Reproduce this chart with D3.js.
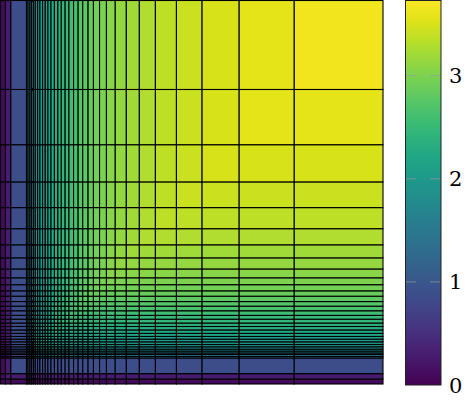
<!DOCTYPE html>
<html>
	<head>
		<meta charset="utf-8">
		<style>
			body {
			  margin: 0;
			  background: #fff;
			}
			text.lbl {
			  font-family: "DejaVu Serif", serif;
			  font-size: 21px;
			}
		</style>
		<script src="https://d3js.org/d3.v7.min.js"></script>
	</head>
	<body>
		<div id="chart"><svg width="470" height="401"></svg></div>
		<script type="text/javascript">
			// cell edges (same for x and y), data units 0..1
			var edges = [0, 0.013, 0.027, 0.068, 0.072, 0.077, 0.081, 0.086, 0.091, 0.097,
				0.103, 0.110, 0.117, 0.124, 0.132, 0.141, 0.150, 0.159, 0.169, 0.179,
				0.191, 0.203, 0.215, 0.229, 0.243, 0.259, 0.277, 0.300, 0.329, 0.363,
				0.405, 0.460, 0.527, 0.624, 0.768, 1];

			// level of each column / row (read from the top row and right column)
			var levels = [0.10, 0.28, 0.86, 1.50, 1.57, 1.64, 1.70, 1.77, 1.84, 1.91,
				1.98, 2.05, 2.11, 2.18, 2.25, 2.32, 2.39, 2.46, 2.52, 2.59,
				2.66, 2.73, 2.80, 2.87, 2.93, 3.00, 3.06, 3.13, 3.20, 3.28,
				3.36, 3.43, 3.51, 3.58, 3.65];

			var colorMax = 3.73;
			var cbarTicks = [0, 1, 2, 3];

			var svg = d3.select("#chart svg");

			var x = d3.scaleLinear().domain([0, 1]).range([0.5, 383]);
			var y = d3.scaleLinear().domain([0, 1]).range([384, 0.5]);
			var color = d3.scaleSequential(d3.interpolateViridis).domain([0, colorMax]);

			var cells = [];
			for (var i = 0; i < levels.length; i++) {
				for (var j = 0; j < levels.length; j++) {
					cells.push({i: i, j: j, v: Math.min(levels[i], levels[j])});
				}
			}

			svg.append("g").selectAll("rect")
				.data(cells)
				.enter().append("rect")
				.attr("x", function(d) { return x(edges[d.i]); })
				.attr("y", function(d) { return y(edges[d.j + 1]); })
				.attr("width", function(d) { return x(edges[d.i + 1]) - x(edges[d.i]); })
				.attr("height", function(d) { return y(edges[d.j]) - y(edges[d.j + 1]); })
				.attr("fill", function(d) { return color(d.v); })
				.attr("stroke", "#000")
				.attr("stroke-width", 1.1);

			// colorbar
			var cb = svg.append("g").attr("class", "cbar");
			var cy = d3.scaleLinear().domain([0, colorMax]).range([385, 0.5]);

			var grad = svg.append("defs").append("linearGradient")
				.attr("id", "vir")
				.attr("x1", 0).attr("x2", 0).attr("y1", 1).attr("y2", 0);
			d3.range(0, 1.0001, 0.05).forEach(function(t) {
				grad.append("stop")
					.attr("offset", t)
					.attr("stop-color", d3.interpolateViridis(t));
			});

			cb.append("rect")
				.attr("x", 405.5).attr("y", cy(colorMax))
				.attr("width", 35.5).attr("height", cy(0) - cy(colorMax))
				.attr("fill", "url(#vir)")
				.attr("stroke", "#222")
				.attr("stroke-width", 1);

			var tk = cb.selectAll(".tick")
				.data(cbarTicks)
				.enter().append("g")
				.attr("class", "tick")
				.attr("transform", function(d) { return "translate(0," + cy(d) + ")"; });

			tk.filter(function(d) { return d > 0; }).append("line")
				.attr("x1", 406).attr("x2", 416)
				.attr("stroke", "#999").attr("stroke-width", 0.7);
			tk.filter(function(d) { return d > 0; }).append("line")
				.attr("x1", 430).attr("x2", 440)
				.attr("stroke", "#999").attr("stroke-width", 0.7);

			tk.append("text")
				.attr("class", "lbl")
				.attr("x", 449)
				.attr("dy", "0.36em")
				.attr("fill", "#000")
				.text(function(d) { return d; });
		</script>
	</body>
</html>
